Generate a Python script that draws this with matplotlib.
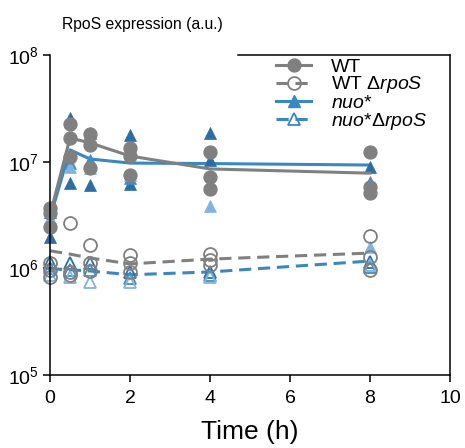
import numpy as np
import matplotlib
matplotlib.use("Agg")
import matplotlib.pyplot as plt
from matplotlib.lines import Line2D

plt.rcParams['font.family'] = ['Liberation Sans', 'DejaVu Sans']
plt.rcParams['mathtext.fontset'] = 'custom'
plt.rcParams['mathtext.rm'] = 'Liberation Sans'
plt.rcParams['mathtext.it'] = 'Liberation Sans:italic'
plt.rcParams['mathtext.bf'] = 'Liberation Sans:bold'

time_h = [0, 0.5, 1, 2, 4, 8]

# WT replicates (filled circles)
wt_rep1 = [3.68e6, 2.26e7, 1.82e7, 1.34e7, 1.23e7, 1.23e7]
wt_rep2 = [3.3e6, 1.67e7, 1.43e7, 1.13e7, 7.2e6, 5.8e6]
wt_rep3 = [2.44e6, 1.11e7, 8.7e6, 7.5e6, 5.5e6, 5.1e6]
wt_mean = [3.16e6, 1.67e7, 1.5e7, 1.13e7, 8.55e6, 7.8e6]

# WT delta rpoS replicates (open circles)
wtd_rep1 = [1.12e6, 2.66e6, 1.66e6, 1.34e6, 1.36e6, 2.01e6]
wtd_rep2 = [9.7e5, 9.25e5, 1.12e6, 1.12e6, 1.2e6, 1.28e6]
wtd_rep3 = [8.3e5, 8.7e5, 9.45e5, 9.25e5, 1.08e6, 9.7e5]
wtd_mean = [1.46e6, 1.36e6, 1.25e6, 1.1e6, 1.22e6, 1.39e6]

# nuo* replicates (filled triangles)
nuo_rep1 = [3.38e6, 2.57e7, 1.86e7, 1.78e7, 1.86e7, 2.07e7]
nuo_rep2 = [1.97e6, 6.3e6, 6.05e6, 6.2e6, 1.04e7, 8.9e6]
nuo_rep3 = [2.72e6, 9.7e6, 1.04e7, 7.0e6, 6.05e6, 6.45e6]
nuo_rep4 = [2.97e6, 8.9e6, 8.7e6, 7.5e6, 3.85e6, 1.59e6]
nuo_mean = [2.97e6, 1.29e7, 1.06e7, 9.7e6, 9.6e6, 9.3e6]

# nuo* delta rpoS replicates (open triangles)
nuod_rep1 = [1.15e6, 1.12e6, 1.12e6, 9.25e5, 9.25e5, 1.15e6]
nuod_rep2 = [1.01e6, 9.7e5, 9.7e5, 8.1e5, 8.7e5, 1.03e6]
nuod_rep3 = [8.7e5, 8.3e5, 7.5e5, 7.5e5, 8.3e5, 1.08e6]
nuod_mean = [9.9e5, 9.7e5, 9.45e5, 8.7e5, 9.25e5, 1.17e6]

labels = ["WT", r"WT Δ$\it{rpoS}$", r"$\it{nuo}$*", r"$\it{nuo}$*Δ$\it{rpoS}$"]

GRAY = "#808080"
BLUE = "#3a88c2"
DARK = "#2c6ea3"
MID = "#3d8cc7"
LIGHT = "#80b4dd"

fig = plt.figure(figsize=(4.65, 4.48), dpi=100)
ax = fig.add_axes([50/465, 73/448, 400/465, 320/448])
ax.set_yscale('log')
ax.set_xlim(0, 10)
ax.set_ylim(1e5, 1e8)

dash = (4, 2.2)
lw = 2.2
ms = 9.3

# nuo* delta rpoS
ax.plot(time_h, nuod_mean, color=BLUE, lw=lw, dashes=dash, zorder=2, clip_on=False)
for rep, c in [(nuod_rep1, DARK), (nuod_rep2, MID), (nuod_rep3, LIGHT)]:
    ax.plot(time_h, rep, ls='none', marker='^', ms=ms, mfc='none', mec=c, mew=1.3,
            zorder=3, clip_on=False)
# nuo*
ax.plot(time_h, nuo_mean, color=BLUE, lw=lw, zorder=2, clip_on=False)
for rep, c in [(nuo_rep1, DARK), (nuo_rep2, DARK), (nuo_rep3, MID), (nuo_rep4, LIGHT)]:
    ax.plot(time_h, rep, ls='none', marker='^', ms=ms, mfc=c, mec=c, mew=0.5,
            zorder=3, clip_on=False)
# WT delta rpoS
ax.plot(time_h, wtd_mean, color=GRAY, lw=lw, dashes=dash, zorder=4, clip_on=False)
for rep in [wtd_rep1, wtd_rep2, wtd_rep3]:
    ax.plot(time_h, rep, ls='none', marker='o', ms=ms, mfc='none', mec=GRAY, mew=1.3,
            zorder=4, clip_on=False)
# WT
for rep in [wt_rep1, wt_rep2, wt_rep3]:
    ax.plot(time_h, rep, ls='none', marker='o', ms=ms, mfc=GRAY, mec=GRAY,
            zorder=4, clip_on=False)
ax.plot(time_h, wt_mean, color=GRAY, lw=lw, zorder=4, clip_on=False)

ax.set_xticks([0, 2, 4, 6, 8, 10])
ax.set_yticks([1e5, 1e6, 1e7, 1e8])
ax.yaxis.set_minor_locator(matplotlib.ticker.NullLocator())
ax.tick_params(axis='both', which='major', direction='out', length=5, width=1.1,
               labelsize=14)
ax.tick_params(axis='x', pad=6)
ax.tick_params(axis='y', pad=3)
for s in ax.spines.values():
    s.set_linewidth(1.1)
    s.set_zorder(12)
ax.spines['top'].set_bounds(4.7, 10)

ax.set_xlabel("Time (h)", fontsize=19, labelpad=9)
fig.text(62/465, 1 - 25/448, "RpoS expression (a.u.)", fontsize=11.3,
         ha='left', va='center')

handles = [
    Line2D([], [], color=GRAY, lw=lw, marker='o', ms=ms, mfc=GRAY, mec=GRAY),
    Line2D([], [], color=GRAY, lw=lw, dashes=dash, marker='o', ms=ms, mfc='none',
           mec=GRAY, mew=1.3),
    Line2D([], [], color=BLUE, lw=lw, marker='^', ms=ms, mfc=BLUE, mec=BLUE),
    Line2D([], [], color=BLUE, lw=lw, dashes=dash, marker='^', ms=ms, mfc='none',
           mec=BLUE, mew=1.3),
]
leg = ax.legend(handles, labels, loc='upper left', bbox_to_anchor=(0.558, 1.0),
                borderaxespad=0, borderpad=0.15, fontsize=14, labelspacing=-0.06,
                handlelength=1.8, handletextpad=1.0, frameon=True, fancybox=False,
                framealpha=1)
leg.get_frame().set_edgecolor('none')
leg.get_frame().set_facecolor('white')
leg.set_zorder(10)

fig.savefig("out.png", dpi=100)
